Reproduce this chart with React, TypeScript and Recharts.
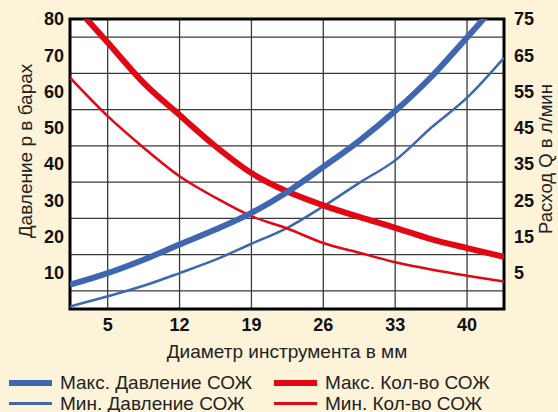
import { LineChart, Line, XAxis, YAxis, CartesianGrid, ReferenceArea } from "recharts";

// diameter of tool, mm
const diameters = [1.33, 5, 8.5, 12, 15.5, 19, 22.5, 26, 29.5, 33, 36.5, 40, 43.6];

// pressure, bar (left axis)
const maxPressure = [6.7, 9.9, 13.6, 17.8, 21.9, 26.5, 32.3, 39.2, 46.4, 54.6, 64, 74.9, 86.5];
const minPressure = [0.7, 3.5, 6.4, 9.9, 13.6, 18, 22.4, 28.3, 34.8, 41, 50, 58.3, 69.3];

// coolant flow, l/min (right axis)
const maxFlow = [80.1, 68.5, 57.4, 48.5, 39.9, 32.5, 27.4, 23.6, 20.4, 17.4, 14.3, 11.8, 9.4];
const minFlow = [58.8, 48.2, 39.5, 31.6, 25.7, 20.6, 17.2, 13.2, 10.5, 7.9, 5.9, 4.2, 2.6];

const xTicks = [5, 12, 19, 26, 33, 40];
const pressureTicks = [10, 20, 30, 40, 50, 60, 70, 80];
const flowTicks = [5, 15, 25, 35, 45, 55, 65, 75];
const gridLines = [5, 10, 15, 20, 25, 30, 35, 40, 45, 50, 55, 60, 65, 70, 75];

const BLUE = "#3F66B1";
const RED = "#E30613";
const BG = "#FDF3D9";
const FONT = "'Liberation Sans', Arial, sans-serif";

const data = diameters.map((d, i) => ({
  d,
  maxP: maxPressure[i],
  minP: minPressure[i],
  maxQ: maxFlow[i],
  minQ: minFlow[i],
}));

const legendItems = [
  { label: "Макс. Давление СОЖ", color: BLUE, width: 6 },
  { label: "Макс. Кол-во СОЖ", color: RED, width: 6 },
  { label: "Мин. Давление СОЖ", color: BLUE, width: 2.5 },
  { label: "Мин. Кол-во СОЖ", color: RED, width: 2.5 },
];

const tickStyle = { fontFamily: FONT, fontSize: 18, fontWeight: 700, fill: "#111" };

export default function App() {
  return (
    <div style={{ position: "absolute", left: 0, top: 0, width: 558, height: 412, background: BG, overflow: "hidden", fontFamily: FONT }}>
      <LineChart width={558} height={412} data={data} margin={{ top: 19, right: 0, bottom: 43, left: 0 }}>
        <CartesianGrid
          yAxisId="left"
          fill="#fff"
          stroke="#3a3a3a"
          strokeWidth={1.3}
          horizontalValues={gridLines}
          verticalValues={xTicks}
        />
        <XAxis
          dataKey="d"
          type="number"
          domain={[1.33, 43.6]}
          ticks={xTicks}
          allowDataOverflow
          height={60}
          axisLine={false}
          tickLine={false}
          tickSize={6}
          tickMargin={3}
          tick={tickStyle}
          label={({ viewBox }: any) => (
            <text x={viewBox.x + viewBox.width / 2} y={viewBox.y + 49} textAnchor="middle" fontFamily={FONT} fontSize={19} fill="#222">
              Диаметр инструмента в мм
            </text>
          )}
        />
        <YAxis
          yAxisId="left"
          domain={[0, 80]}
          ticks={pressureTicks}
          allowDataOverflow
          width={70}
          axisLine={false}
          tickLine={false}
          tickSize={4}
          tickMargin={2}
          tick={tickStyle}
          label={({ viewBox }: any) => {
            const cx = viewBox.x + 32;
            const cy = viewBox.y + viewBox.height / 2 - 13;
            return (
              <text x={cx} y={cy} transform={`rotate(-90 ${cx} ${cy})`} textAnchor="middle" fontFamily={FONT} fontSize={19} fill="#222">
                Давление р в барах
              </text>
            );
          }}
        />
        <YAxis
          yAxisId="right"
          orientation="right"
          domain={[-5, 75]}
          ticks={flowTicks}
          allowDataOverflow
          width={54}
          axisLine={false}
          tickLine={false}
          tickSize={6}
          tickMargin={4}
          tick={tickStyle}
          label={({ viewBox }: any) => {
            const cx = viewBox.x + 48;
            const cy = viewBox.y + viewBox.height / 2 - 5;
            return (
              <text x={cx} y={cy} transform={`rotate(-90 ${cx} ${cy})`} textAnchor="middle" fontFamily={FONT} fontSize={18.5} fill="#222">
                Расход Q в л/мин
              </text>
            );
          }}
        />
        <Line yAxisId="left" dataKey="minP" type="monotone" stroke={BLUE} strokeWidth={2.5} dot={false} isAnimationActive={false} />
        <Line yAxisId="right" dataKey="minQ" type="monotone" stroke={RED} strokeWidth={2.5} dot={false} isAnimationActive={false} />
        <Line yAxisId="right" dataKey="maxQ" type="monotone" stroke={RED} strokeWidth={6} dot={false} isAnimationActive={false} />
        <Line yAxisId="left" dataKey="maxP" type="monotone" stroke={BLUE} strokeWidth={6} dot={false} isAnimationActive={false} />
        <ReferenceArea yAxisId="left" x1={1.33} x2={43.6} y1={0} y2={80} fill="none" stroke="#000" strokeWidth={3} ifOverflow="visible" />
      </LineChart>
      <div style={{ position: "absolute", left: 9, top: 372, width: 545, display: "grid", gridTemplateColumns: "265px 280px" }}>
        {legendItems.map((item) => (
          <div key={item.label} style={{ display: "flex", alignItems: "center", height: 21 }}>
            <div style={{ width: 43, height: item.width, background: item.color, marginRight: 8 }} />
            <span style={{ fontSize: 19, color: "#222", whiteSpace: "nowrap" }}>{item.label}</span>
          </div>
        ))}
      </div>
    </div>
  );
}
